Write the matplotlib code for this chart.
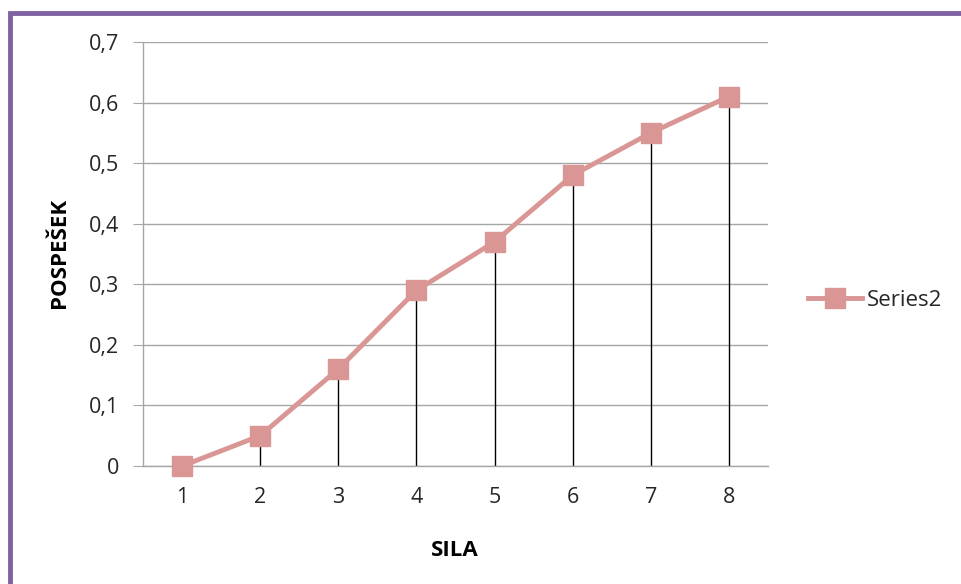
import matplotlib.pyplot as plt
from matplotlib.patches import Rectangle

# data
sila = [1, 2, 3, 4, 5, 6, 7, 8]
pospesek = [0, 0.05, 0.16, 0.29, 0.37, 0.48, 0.55, 0.61]
y_ticks = [0, 0.1, 0.2, 0.3, 0.4, 0.5, 0.6, 0.7]
y_tick_labels = ['0', '0,1', '0,2', '0,3', '0,4', '0,5', '0,6', '0,7']

plt.rcParams['font.family'] = ['Open Sans', 'DejaVu Sans']

fig = plt.figure(figsize=(9.62, 5.84), dpi=100)
ax = fig.add_axes([143 / 962, 1 - 466 / 584, 625 / 962, 424 / 584])

line_color = '#d99694'
grid_color = '#a6a6a6'
text_color = '#262626'

# drop lines from each point to the x axis
ax.vlines(sila, 0, pospesek, color='black', linewidth=1, zorder=2)
ax.plot(sila, pospesek, color=line_color, linewidth=3.5, marker='s',
        markersize=14, markerfacecolor=line_color, markeredgecolor=line_color,
        label='Series2', zorder=3, clip_on=False)

ax.set_xlim(0.5, 8.5)
ax.set_ylim(0, 0.7)
ax.set_yticks(y_ticks)
ax.set_yticklabels(y_tick_labels)
ax.set_xticks(sila)
ax.grid(axis='y', color=grid_color, linewidth=1)
ax.set_axisbelow(True)

for side in ['top', 'right']:
    ax.spines[side].set_visible(False)
for side in ['left', 'bottom']:
    ax.spines[side].set_color(grid_color)
    ax.spines[side].set_linewidth(1)

ax.tick_params(axis='y', length=7, color=grid_color, labelsize=15.5, pad=10,
               labelcolor=text_color)
ax.tick_params(axis='x', length=0, labelsize=15.5, pad=15, labelcolor=text_color)

ax.set_xlabel('SILA', fontsize=16, fontweight='bold', color='black')
ax.set_ylabel('POSPEŠEK', fontsize=16, fontweight='bold', color='black')
ax.xaxis.set_label_coords(455 / 962, 1 - 551 / 584, transform=fig.transFigure)
ax.yaxis.set_label_coords(60 / 962, 1 - 253 / 584, transform=fig.transFigure)
ax.xaxis.label.set_va('center')
ax.yaxis.label.set_va('center')

fig.legend(loc='center left', bbox_to_anchor=(808 / 962, 1 - 300 / 584),
           frameon=False, fontsize=16, handlelength=2.45, handletextpad=0.2,
           borderaxespad=0, borderpad=0, labelcolor=text_color)

# purple chart frame (left and top edges)
fig.patches.append(Rectangle((10 / 962, -0.5), 1.5, 1.5 - 12.5 / 584,
                             transform=fig.transFigure, fill=False,
                             edgecolor='#8064a2', linewidth=3.5))

fig.savefig('out.png', dpi=100)
